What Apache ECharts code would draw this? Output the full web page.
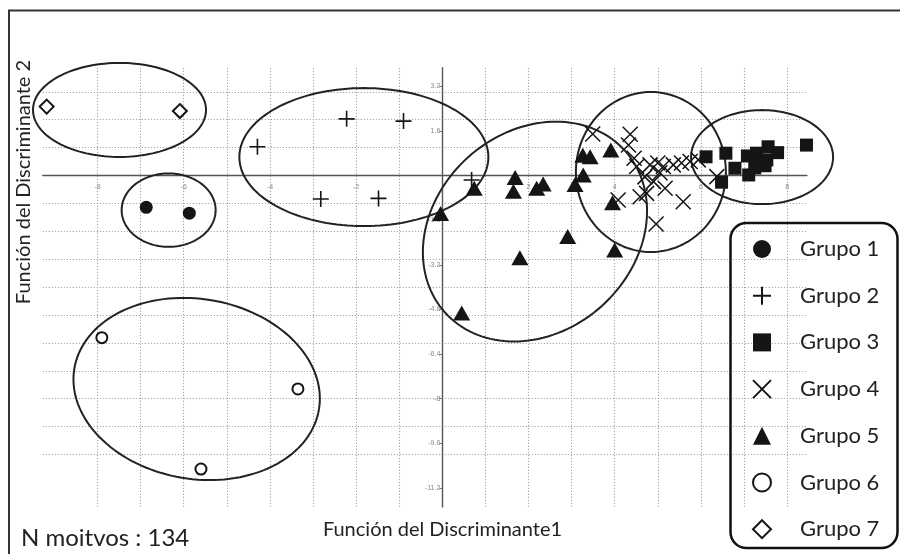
<!DOCTYPE html>
<html><head><meta charset="utf-8">
<script src="https://cdn.jsdelivr.net/npm/echarts@6/dist/echarts.min.js"></script>
<style>html,body{margin:0;padding:0;background:#fff}#c{width:900px;height:554px}</style>
</head><body><div id="c"></div>
<script>
// ---- data ----
const groupNames = ['Grupo 1','Grupo 2','Grupo 3','Grupo 4','Grupo 5','Grupo 6','Grupo 7'];
const group1 = [[-6.87,-1.14],[-5.87,-1.35]];
const group2 = [[-4.29,1.03],[-2.22,2.03],[-0.90,1.95],[-2.82,-0.84],[-1.48,-0.82],[0.68,-0.16]];
const group3 = [[6.12,0.67],[6.58,0.80],[6.79,0.26],[6.48,-0.24],[7.08,0.70],[7.11,0.02],[7.29,0.80],[7.25,0.27],[7.49,0.35],[7.56,1.03],[7.78,0.82],[7.53,0.56],[7.38,0.52],[8.45,1.09]];
const group4 = [[3.49,1.49],[4.36,1.48],[4.32,1.09],[4.45,0.62],[4.51,0.32],[4.82,0.38],[5.00,0.45],[5.13,0.32],[5.36,0.38],[5.55,0.45],[5.75,0.50],[5.94,0.56],[4.90,-0.22],[5.17,-0.46],[4.74,-0.64],[4.59,-0.76],[4.08,-0.88],[5.59,-0.94],[4.96,-1.74],[6.37,-0.04],[4.70,-0.05],[5.05,0.10]];
const group5 = [[-0.04,-1.36],[0.74,-0.46],[1.69,-0.07],[1.65,-0.56],[2.34,-0.30],[2.19,-0.46],[3.08,-0.32],[3.27,0.02],[3.26,0.73],[3.43,0.67],[3.91,0.91],[3.95,-0.98],[2.91,-2.19],[1.80,-2.95],[0.45,-4.93],[4.00,-2.67]];
const group6 = [[-7.90,-5.81],[-3.35,-7.65],[-5.60,-10.52]];
const group7 = [[-9.18,2.47],[-6.09,2.31]];
// tick labels
const xTickLabels = [-8,-6,-4,-2,2,4,6,8];
const yTickLabels = [3.2,1.6,-1.6,-3.2,-4.8,-6.4,-8,-9.6,-11.2];
// dotted grid positions
const xGridValues = [-8,-7,-6,-5,-4,-3,-2,-1,1,2,3,4,5,6,7,8];
const yGridValues = [3,2,1,-1,-2,-3,-4,-5,-6,-7,-8,-9,-10];
// group ellipses: centre (data units), semi-axes (px), rotation (deg)
const ellipseCx = [-7.49,-6.35,-1.82,2.15,4.84,7.42,-5.70];
const ellipseCy = [2.35,-1.24,0.66,-2.01,0.125,0.66,-7.65];
const ellipseA  = [86.5,47,124.5,121,75,71,124];
const ellipseB  = [47,36.7,69,100,80,47,90];
const ellipseRot= [0,0,0,42,0,0,-9.5];

const FONT = 'Lato';
const INK = '#151515';
const groups = [group1,group2,group3,group4,group5,group6,group7];
const symbols = [
  {symbol:'circle', size:13, style:{color:INK, opacity:1}},
  {symbol:'path://M8,0L8,16M0,8L16,8', size:16, style:{color:INK,borderColor:INK,borderWidth:1.6, opacity:1}},
  {symbol:'rect', size:13, style:{color:INK, opacity:1}},
  {symbol:'path://M0,0L16,16M16,0L0,16', size:15, style:{color:INK,borderColor:INK,borderWidth:1.5, opacity:1}},
  {symbol:'triangle', size:[17,15], style:{color:INK, opacity:1}},
  {symbol:'circle', size:11, style:{color:'#fff',borderColor:INK,borderWidth:2, opacity:1}},
  {symbol:'diamond', size:14, style:{color:'#fff',borderColor:INK,borderWidth:2, opacity:1}}
];

const series = groups.map((g,i)=>({
  type:'scatter', name:groupNames[i], data:g, z:4, zlevel:0,
  symbol:symbols[i].symbol, symbolSize:symbols[i].size,
  itemStyle:symbols[i].style
}));

series.push({
  type:'scatter', name:'grid', data:[], silent:true, z:0,
  markLine:{
    z:0, silent:true, symbol:['none','none'], label:{show:false}, animation:false,
    lineStyle:{type:[1.2,1.8], color:'#a8a8a8', width:1.1},
    emphasis:{disabled:true},
    data:[...xGridValues.map(v=>({xAxis:v})), ...yGridValues.map(v=>({yAxis:v}))]
  }
});

series.push({
  type:'custom', name:'ellipses', silent:true, z:2, clip:false,
  data: ellipseCx.map((cx,i)=>[cx, ellipseCy[i], ellipseA[i], ellipseB[i], ellipseRot[i]]),
  encode:{x:0,y:1},
  renderItem:(params, api)=>{
    const c = api.coord([api.value(0), api.value(1)]);
    const a = api.value(2), b = api.value(3), ang = api.value(4)*Math.PI/180;
    const pts = [];
    for (let k=0;k<=144;k++){
      const t = k/144*2*Math.PI;
      const ex = a*Math.cos(t), ey = b*Math.sin(t);
      pts.push([c[0]+ex*Math.cos(ang)-ey*Math.sin(ang), c[1]-(ex*Math.sin(ang)+ey*Math.cos(ang))]);
    }
    return {type:'polygon', shape:{points:pts}, style:{fill:'none', stroke:'#222', lineWidth:2}};
  }
});

const GRID = {left:42.8, right:93.1, top:67.8, bottom:47};
const chart = echarts.init(document.getElementById('c'));
chart.setOption({
  animation:false,
  backgroundColor:'#fff',
  textStyle:{fontFamily:FONT},
  grid:Object.assign({containLabel:false, outerBoundsMode:'none'}, GRID),
  xAxis:{
    type:'value', min:-9.27, max:8.46, z:1,
    axisLine:{onZero:false, lineStyle:{color:'#555', width:1.4}},
    axisTick:{show:false},
    axisLabel:{customValues:xTickLabels, fontSize:7, color:'#888', margin:8, fontFamily:'Liberation Sans'},
    splitLine:{show:false}
  },
  yAxis:{
    type:'value', min:-11.88, max:3.86, z:1,
    axisLine:{onZero:false, lineStyle:{color:'#555', width:1.4}},
    axisTick:{customValues:yTickLabels, length:3, lineStyle:{color:'#777'}},
    axisLabel:{customValues:yTickLabels, fontSize:7, color:'#888', margin:2, fontFamily:'Liberation Sans'},
    splitLine:{show:false}
  },
  legend:{
    data:groupNames, orient:'vertical', left:752, top:238, padding:0, height:330,
    itemWidth:18, itemHeight:18, itemGap:24.7,
    textStyle:{fontFamily:FONT, fontSize:22, color:'#222', padding:[0,0,0,24]},
    selectedMode:false
  },
  graphic:[
    {type:'rect', silent:true, shape:{x:9, y:10.5, width:1000, height:1000}, style:{fill:'none', stroke:'#333', lineWidth:2}},
    {type:'rect', silent:true, z:5, shape:{x:730.5, y:223, width:167, height:325, r:16}, style:{fill:'none', stroke:'#111', lineWidth:2.5}},
    {type:'text', silent:true, x:24, y:182, rotation:Math.PI/2, style:{text:'Función del Discriminante 2', font:'20px Lato', fill:'#222', align:'center', verticalAlign:'middle'}},
    {type:'text', silent:true, x:442.5, y:530, style:{text:'Función del Discriminante1', font:'20px Lato', fill:'#222', align:'center', verticalAlign:'middle'}},
    {type:'text', silent:true, x:21, y:538, style:{text:'N moitvos : 134', font:'24px Lato', fill:'#222', align:'left', verticalAlign:'middle'}}
  ],
  series:series
});
// move both axes (line + labels) so they cross at the data origin
const origin = chart.convertToPixel({gridIndex:0}, [0,0]);
const gridBottomY = 554 - GRID.bottom;
const gridLeftX = GRID.left;
chart.setOption({
  xAxis:{offset: origin[1] - gridBottomY},
  yAxis:{offset: gridLeftX - origin[0]}
});
</script></body></html>
